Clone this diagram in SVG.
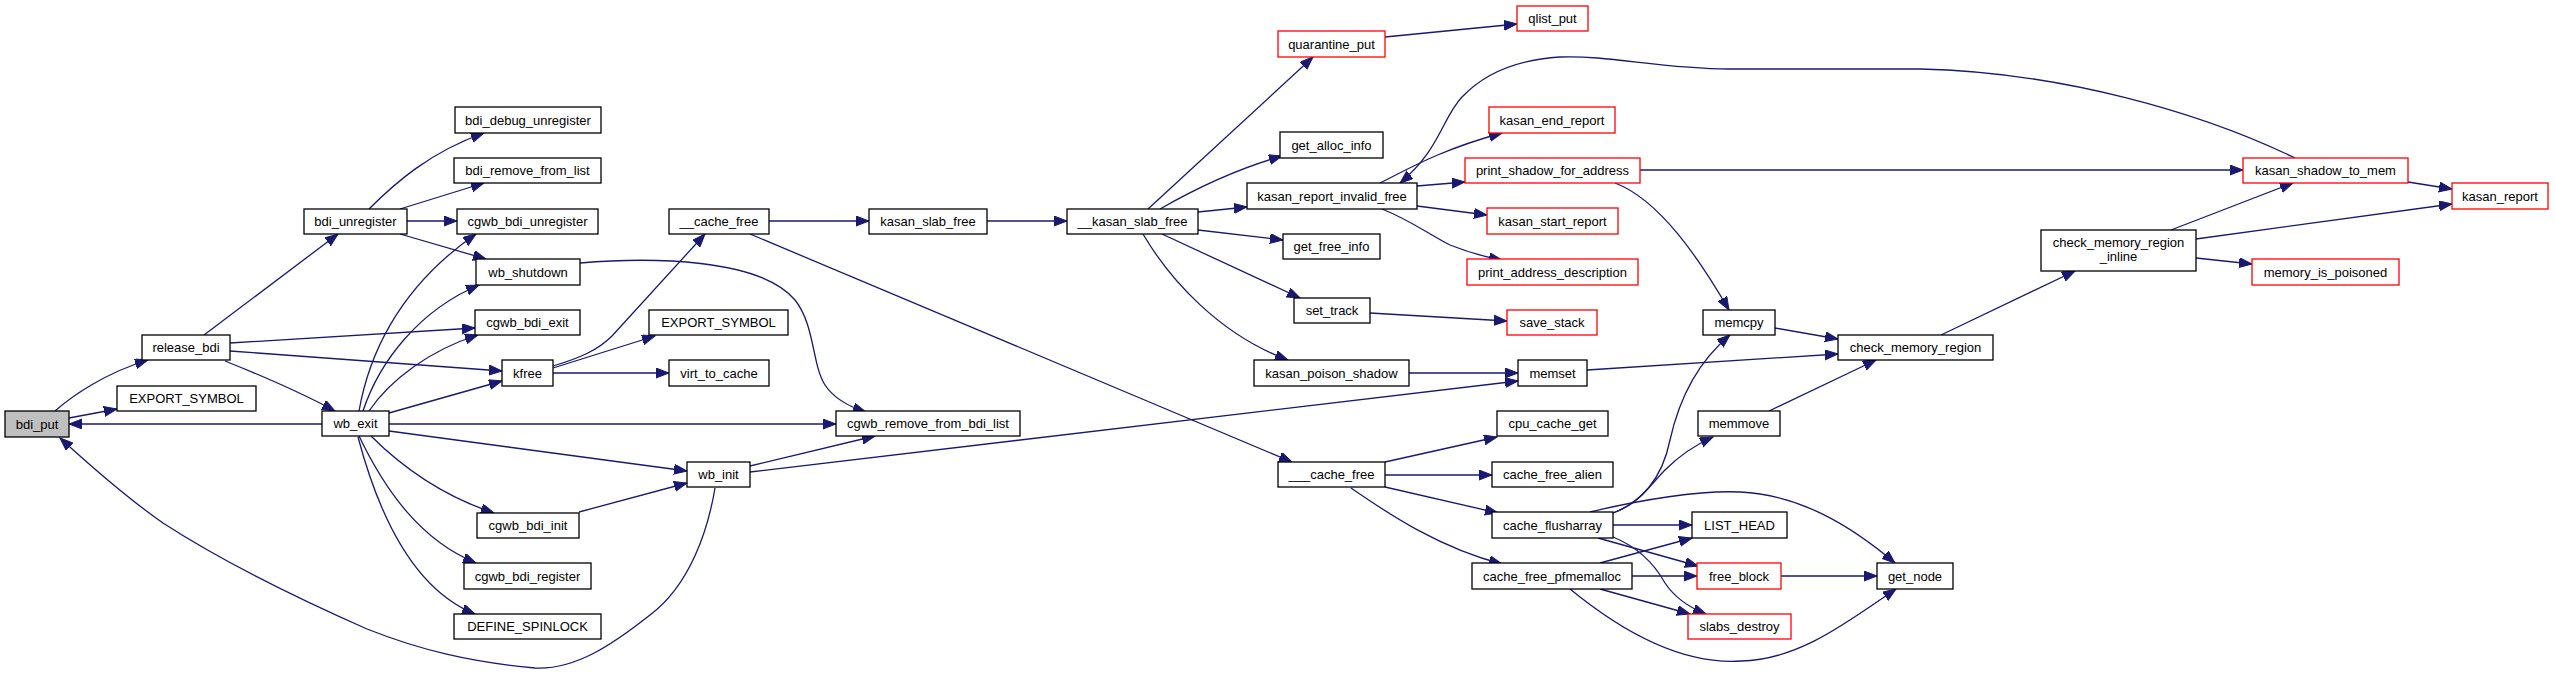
<svg xmlns="http://www.w3.org/2000/svg" width="2555" height="676" viewBox="0 0 2555 676">
<style>
.n rect{fill:#fff;stroke:#000;stroke-width:1.3}
.n.r rect{stroke:#ff0000}
.n.g rect{fill:#bfbfbf}
.n text{font-family:"Liberation Sans",Arial,sans-serif;font-size:13px;text-anchor:middle;fill:#000}
#edges path{fill:none;stroke:#191970;stroke-width:1.3;marker-end:url(#ah)}
</style>
<defs>
<marker id="ah" markerWidth="14" markerHeight="11" refX="13" refY="5" orient="auto" markerUnits="userSpaceOnUse">
<path d="M0,0 L13,5 L0,10 z" fill="#191970" stroke="#191970" stroke-width="1"/>
</marker>
</defs>
<rect width="2555" height="676" fill="#fff"/>
<g id="edges">
<path d="M55,411 C72,396 105,373 148,360"/>
<path d="M69,418 L117,409"/>
<path d="M322,424 L69,424"/>
<path d="M715,488 C708,530 690,585 650,615 C612,645 575,670 535,668 C470,662 420,650 367,629 C290,595 220,560 163,523 C130,500 95,470 60,438"/>
<path d="M204,335 L338,234"/>
<path d="M230,343 L475,328"/>
<path d="M230,351 L502,371"/>
<path d="M225,361 C255,373 300,392 335,411"/>
<path d="M369,209 C395,183 430,152 484,133"/>
<path d="M400,209 L484,183"/>
<path d="M407,221 L457,221"/>
<path d="M400,234 L486,259"/>
<path d="M359,411 C368,360 395,290 476,234"/>
<path d="M363,411 C380,360 420,310 479,285"/>
<path d="M369,411 C390,380 430,350 478,335"/>
<path d="M389,413 L502,381"/>
<path d="M389,424 L836,424"/>
<path d="M389,431 L687,471"/>
<path d="M371,436 C400,465 440,495 494,513"/>
<path d="M359,436 C385,490 420,540 476,563"/>
<path d="M358,437 C380,520 415,590 475,614"/>
<path d="M579,512 L687,483"/>
<path d="M580,263 C650,257 760,258 795,300 C815,325 812,365 825,385 C835,400 850,407 866,412"/>
<path d="M553,366 C580,358 598,350 612,336 L705,234"/>
<path d="M553,368 L655,336"/>
<path d="M553,373 L669,373"/>
<path d="M769,221 L869,221"/>
<path d="M987,221 L1067,221"/>
<path d="M750,234 L1292,462"/>
<path d="M1148,209 L1313,57"/>
<path d="M1160,209 C1200,186 1240,168 1282,156"/>
<path d="M1198,212 L1247,207"/>
<path d="M1198,230 L1283,240"/>
<path d="M1162,234 L1300,298"/>
<path d="M1143,234 C1170,280 1220,335 1288,360"/>
<path d="M1385,37 L1517,24"/>
<path d="M1380,183 C1410,168 1440,150 1502,133"/>
<path d="M1417,186 L1465,182"/>
<path d="M1417,206 L1487,215"/>
<path d="M1382,209 C1410,220 1430,235 1450,245 C1470,253 1485,257 1502,260"/>
<path d="M2295,158 C2200,112 2060,72 1920,69 L1729,69 C1660,69 1610,55 1560,57 C1510,60 1480,78 1462,97 C1442,118 1440,150 1400,183"/>
<path d="M1640,170 L2243,170"/>
<path d="M1615,183 C1660,200 1700,260 1729,310"/>
<path d="M1370,313 L1507,321"/>
<path d="M1775,328 L1838,339"/>
<path d="M1409,373 L1518,373"/>
<path d="M750,472 L1518,381"/>
<path d="M750,466 L875,436"/>
<path d="M1587,370 L1838,354"/>
<path d="M1941,335 L2075,271"/>
<path d="M2171,230 L2293,183"/>
<path d="M2196,239 L2452,204"/>
<path d="M2196,258 L2252,264"/>
<path d="M2408,182 L2452,189"/>
<path d="M1769,411 L1876,360"/>
<path d="M1385,462 L1497,437"/>
<path d="M1385,475 L1492,475"/>
<path d="M1385,487 L1498,513"/>
<path d="M1351,488 C1390,515 1440,548 1502,564"/>
<path d="M1613,513 C1640,503 1662,480 1670,440 C1680,395 1700,360 1730,335"/>
<path d="M1613,513 C1640,503 1650,485 1665,470 C1680,455 1695,445 1713,437"/>
<path d="M1590,512 C1640,500 1700,490 1740,492 C1800,495 1850,525 1895,563"/>
<path d="M1613,525 L1692,525"/>
<path d="M1598,538 L1698,566"/>
<path d="M1613,537 C1640,548 1655,565 1665,583 C1675,598 1688,607 1706,614"/>
<path d="M1600,563 L1692,538"/>
<path d="M1632,576 L1697,576"/>
<path d="M1600,589 L1690,614"/>
<path d="M1570,589 C1620,630 1680,665 1741,661 C1800,660 1850,620 1896,589"/>
<path d="M1781,576 L1877,576"/>
</g>
<g id="bdi_put" class="n g"><rect x="5" y="411" width="64" height="26"/><text x="37" y="428.5">bdi_put</text></g>
<g id="release_bdi" class="n"><rect x="142" y="335" width="88" height="25"/><text x="186" y="352">release_bdi</text></g>
<g id="EXPORT_SYMBOL_1" class="n"><rect x="117" y="386" width="139" height="25"/><text x="186.5" y="403">EXPORT_SYMBOL</text></g>
<g id="wb_exit" class="n"><rect x="322" y="411" width="67" height="25"/><text x="355.5" y="428">wb_exit</text></g>
<g id="bdi_unregister" class="n"><rect x="304" y="209" width="103" height="25"/><text x="355.5" y="226">bdi_unregister</text></g>
<g id="bdi_debug_unregister" class="n"><rect x="455" y="107" width="146" height="26"/><text x="528" y="124.5">bdi_debug_unregister</text></g>
<g id="bdi_remove_from_list" class="n"><rect x="454" y="158" width="147" height="25"/><text x="527.5" y="175">bdi_remove_from_list</text></g>
<g id="cgwb_bdi_unregister" class="n"><rect x="457" y="209" width="141" height="25"/><text x="527.5" y="226">cgwb_bdi_unregister</text></g>
<g id="wb_shutdown" class="n"><rect x="476" y="259" width="104" height="26"/><text x="528" y="276.5">wb_shutdown</text></g>
<g id="cgwb_bdi_exit" class="n"><rect x="475" y="310" width="105" height="25"/><text x="527.5" y="327">cgwb_bdi_exit</text></g>
<g id="kfree" class="n"><rect x="502" y="360" width="51" height="26"/><text x="527.5" y="377.5">kfree</text></g>
<g id="cgwb_bdi_init" class="n"><rect x="477" y="513" width="102" height="25"/><text x="528" y="530">cgwb_bdi_init</text></g>
<g id="cgwb_bdi_register" class="n"><rect x="464" y="563" width="127" height="26"/><text x="527.5" y="580.5">cgwb_bdi_register</text></g>
<g id="DEFINE_SPINLOCK" class="n"><rect x="454" y="614" width="147" height="25"/><text x="527.5" y="631">DEFINE_SPINLOCK</text></g>
<g id="__cache_free" class="n"><rect x="669" y="209" width="100" height="25"/><text x="719" y="226">__cache_free</text></g>
<g id="EXPORT_SYMBOL_2" class="n"><rect x="649" y="310" width="139" height="25"/><text x="718.5" y="327">EXPORT_SYMBOL</text></g>
<g id="virt_to_cache" class="n"><rect x="669" y="360" width="100" height="26"/><text x="719" y="377.5">virt_to_cache</text></g>
<g id="cgwb_remove_from_bdi_list" class="n"><rect x="836" y="411" width="184" height="25"/><text x="928" y="428">cgwb_remove_from_bdi_list</text></g>
<g id="wb_init" class="n"><rect x="687" y="462" width="63" height="25"/><text x="718.5" y="479">wb_init</text></g>
<g id="kasan_slab_free" class="n"><rect x="869" y="209" width="118" height="25"/><text x="928" y="226">kasan_slab_free</text></g>
<g id="__kasan_slab_free" class="n"><rect x="1067" y="209" width="131" height="25"/><text x="1132.5" y="226">__kasan_slab_free</text></g>
<g id="quarantine_put" class="n r"><rect x="1278" y="31" width="107" height="26"/><text x="1331.5" y="48.5">quarantine_put</text></g>
<g id="qlist_put" class="n r"><rect x="1517" y="6" width="71" height="25"/><text x="1552.5" y="23">qlist_put</text></g>
<g id="get_alloc_info" class="n"><rect x="1280" y="132" width="103" height="26"/><text x="1331.5" y="149.5">get_alloc_info</text></g>
<g id="kasan_report_invalid_free" class="n"><rect x="1247" y="183" width="170" height="26"/><text x="1332" y="200.5">kasan_report_invalid_free</text></g>
<g id="get_free_info" class="n"><rect x="1283" y="234" width="97" height="25"/><text x="1331.5" y="251">get_free_info</text></g>
<g id="set_track" class="n"><rect x="1294" y="298" width="76" height="25"/><text x="1332" y="315">set_track</text></g>
<g id="kasan_poison_shadow" class="n"><rect x="1254" y="360" width="155" height="26"/><text x="1331.5" y="377.5">kasan_poison_shadow</text></g>
<g id="___cache_free" class="n"><rect x="1278" y="462" width="107" height="25"/><text x="1331.5" y="479">___cache_free</text></g>
<g id="kasan_end_report" class="n r"><rect x="1489" y="107" width="126" height="26"/><text x="1552" y="124.5">kasan_end_report</text></g>
<g id="print_shadow_for_address" class="n r"><rect x="1465" y="158" width="175" height="25"/><text x="1552.5" y="175">print_shadow_for_address</text></g>
<g id="kasan_start_report" class="n r"><rect x="1487" y="208" width="131" height="26"/><text x="1552.5" y="225.5">kasan_start_report</text></g>
<g id="print_address_description" class="n r"><rect x="1467" y="259" width="171" height="26"/><text x="1552.5" y="276.5">print_address_description</text></g>
<g id="save_stack" class="n r"><rect x="1507" y="310" width="90" height="25"/><text x="1552" y="327">save_stack</text></g>
<g id="memset" class="n"><rect x="1518" y="360" width="69" height="26"/><text x="1552.5" y="377.5">memset</text></g>
<g id="cpu_cache_get" class="n"><rect x="1497" y="411" width="111" height="25"/><text x="1552.5" y="428">cpu_cache_get</text></g>
<g id="cache_free_alien" class="n"><rect x="1492" y="462" width="121" height="25"/><text x="1552.5" y="479">cache_free_alien</text></g>
<g id="cache_flusharray" class="n"><rect x="1492" y="512" width="121" height="26"/><text x="1552.5" y="529.5">cache_flusharray</text></g>
<g id="cache_free_pfmemalloc" class="n"><rect x="1472" y="563" width="160" height="26"/><text x="1552" y="580.5">cache_free_pfmemalloc</text></g>
<g id="memcpy" class="n"><rect x="1703" y="310" width="72" height="25"/><text x="1739" y="327">memcpy</text></g>
<g id="memmove" class="n"><rect x="1698" y="411" width="82" height="25"/><text x="1739" y="428">memmove</text></g>
<g id="LIST_HEAD" class="n"><rect x="1692" y="512" width="95" height="26"/><text x="1739.5" y="529.5">LIST_HEAD</text></g>
<g id="free_block" class="n r"><rect x="1697" y="563" width="84" height="26"/><text x="1739" y="580.5">free_block</text></g>
<g id="slabs_destroy" class="n r"><rect x="1688" y="614" width="103" height="25"/><text x="1739.5" y="631">slabs_destroy</text></g>
<g id="get_node" class="n"><rect x="1877" y="563" width="76" height="26"/><text x="1915" y="580.5">get_node</text></g>
<g id="check_memory_region" class="n"><rect x="1838" y="335" width="155" height="25"/><text x="1915.5" y="352">check_memory_region</text></g>
<g id="check_memory_region_inline" class="n"><rect x="2041" y="230" width="155" height="41"/><text x="2118.5" y="247">check_memory_region</text><text x="2118.5" y="261">_inline</text></g>
<g id="kasan_shadow_to_mem" class="n r"><rect x="2243" y="158" width="165" height="25"/><text x="2325.5" y="175">kasan_shadow_to_mem</text></g>
<g id="memory_is_poisoned" class="n r"><rect x="2252" y="259" width="147" height="26"/><text x="2325.5" y="276.5">memory_is_poisoned</text></g>
<g id="kasan_report" class="n r"><rect x="2452" y="183" width="96" height="26"/><text x="2500" y="200.5">kasan_report</text></g>
</svg>
